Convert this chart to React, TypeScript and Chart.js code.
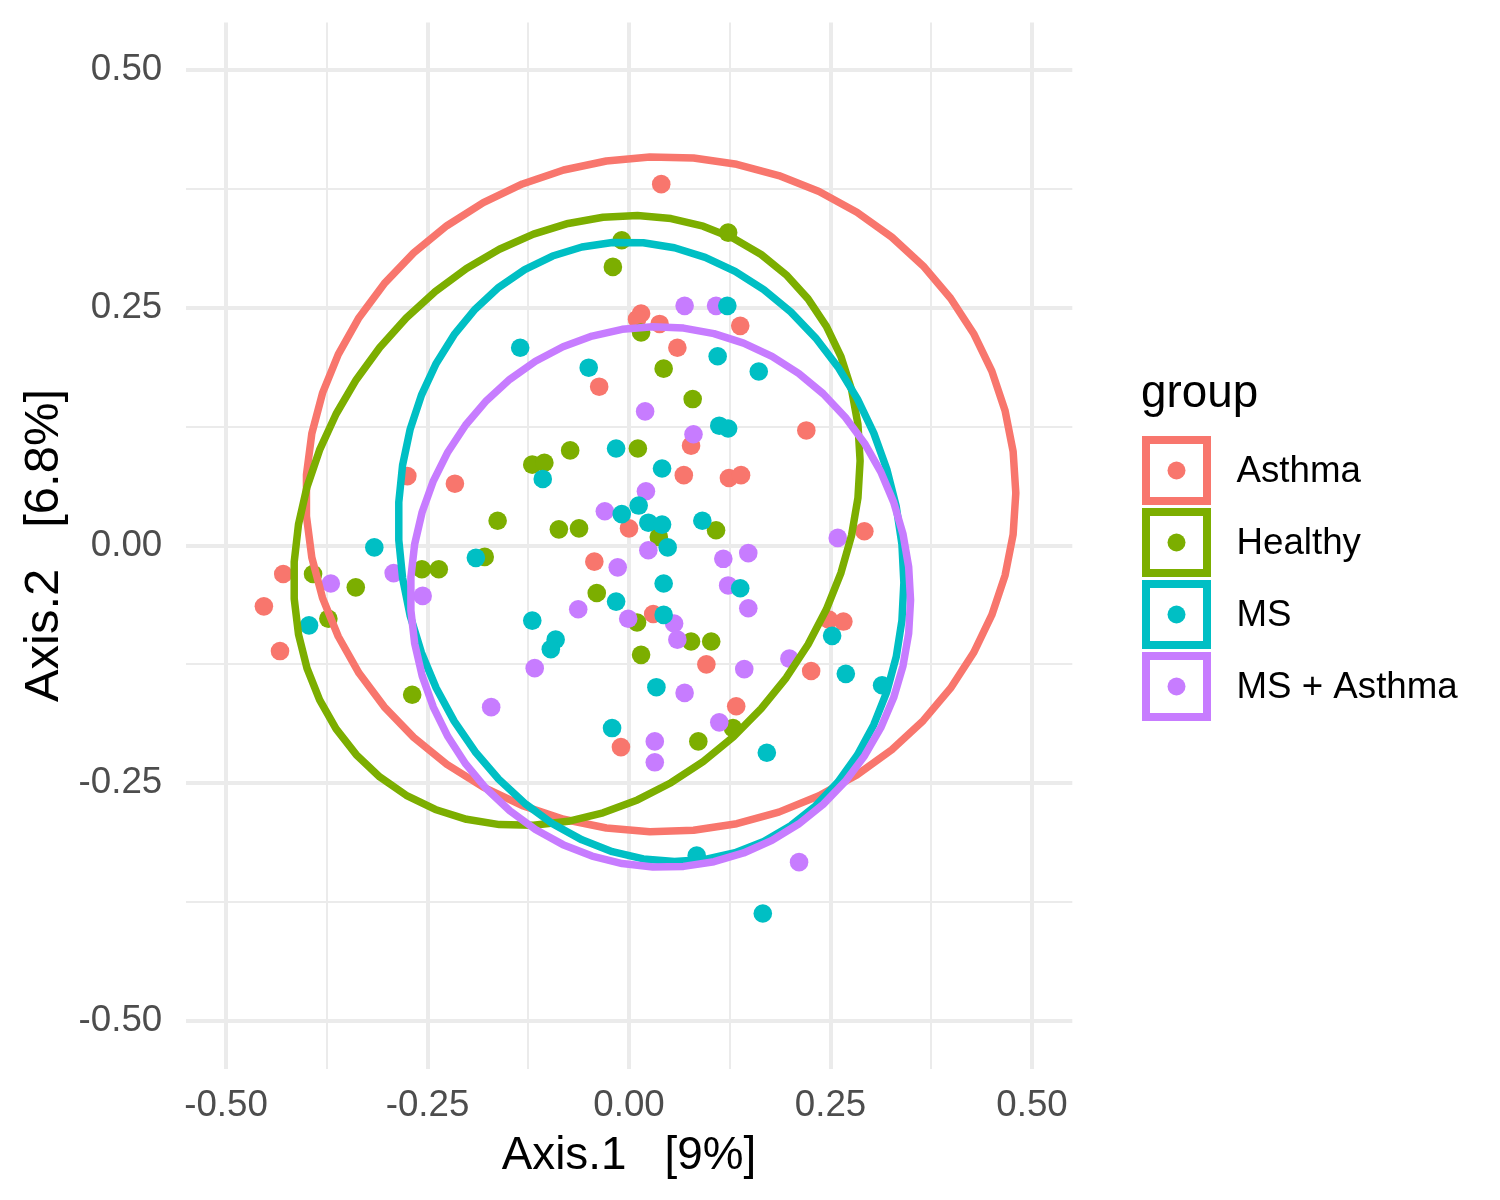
import React, { useEffect, useRef } from "react";
import { Chart, registerables } from "chart.js";

Chart.register(...registerables);

// ---- data ----
const groupNames = ["Asthma", "Healthy", "MS", "MS + Asthma"];
const groupColors = ["#F8766D", "#7CAE00", "#00BFC4", "#C77CFF"];

const asthmaX = [0.040, 0.015, 0.010, 0.038, 0.138, 0.060, -0.037, 0.220, 0.077, -0.275, -0.216, 0.068, 0.124, 0.139, 0.292, 0.000, -0.043, -0.429, -0.453, -0.433, 0.030, 0.248, 0.266, 0.096, 0.226, 0.133, -0.010];
const asthmaY = [0.380, 0.244, 0.238, 0.233, 0.231, 0.208, 0.167, 0.121, 0.105, 0.073, 0.065, 0.074, 0.071, 0.074, 0.015, 0.018, -0.017, -0.030, -0.064, -0.111, -0.072, -0.078, -0.080, -0.125, -0.132, -0.169, -0.212];

const healthyX = [0.123, -0.009, -0.020, 0.015, 0.043, 0.079, -0.120, -0.105, -0.073, 0.011, -0.163, -0.087, -0.062, 0.037, 0.108, -0.179, -0.040, 0.010, 0.077, 0.102, 0.015, 0.086, 0.129, -0.392, -0.339, -0.373, -0.257, -0.236, -0.269];
const healthyY = [0.329, 0.321, 0.293, 0.224, 0.186, 0.154, 0.085, 0.087, 0.100, 0.102, 0.026, 0.017, 0.018, 0.009, 0.016, -0.012, -0.050, -0.081, -0.101, -0.101, -0.115, -0.206, -0.192, -0.030, -0.044, -0.077, -0.025, -0.025, -0.157];

const msX = [0.122, -0.135, -0.050, 0.110, 0.161, 0.112, 0.123, -0.016, 0.041, -0.107, 0.012, -0.009, 0.024, 0.041, 0.048, 0.091, 0.043, 0.138, -0.016, 0.043, -0.120, -0.091, -0.097, 0.034, -0.021, 0.171, -0.316, -0.190, -0.397, 0.252, 0.269, 0.314, 0.084, 0.166];
const msY = [0.252, 0.208, 0.187, 0.199, 0.183, 0.126, 0.123, 0.102, 0.081, 0.070, 0.042, 0.033, 0.024, 0.022, -0.002, 0.026, -0.040, -0.045, -0.059, -0.073, -0.079, -0.099, -0.109, -0.149, -0.192, -0.218, -0.002, -0.013, -0.084, -0.095, -0.135, -0.147, -0.326, -0.387];

const msAsthmaX = [0.069, 0.108, 0.020, 0.080, 0.021, -0.030, 0.024, -0.014, 0.117, 0.148, 0.123, 0.148, -0.063, -0.001, 0.056, 0.060, -0.117, 0.143, 0.069, -0.171, 0.112, 0.032, 0.032, -0.370, -0.292, -0.256, 0.259, 0.199, 0.211];
const msAsthmaY = [0.252, 0.252, 0.141, 0.117, 0.057, 0.036, -0.005, -0.023, -0.014, -0.008, -0.042, -0.066, -0.067, -0.077, -0.082, -0.099, -0.129, -0.130, -0.155, -0.170, -0.186, -0.206, -0.228, -0.040, -0.029, -0.053, 0.008, -0.119, -0.333];

const groupX = [asthmaX, healthyX, msX, msAsthmaX];
const groupY = [asthmaY, healthyY, msY, msAsthmaY];

// axis ticks
const axisMin = -0.55;
const axisMax = 0.55;
const gridTicks = [-0.5, -0.375, -0.25, -0.125, 0, 0.125, 0.25, 0.375, 0.5];
const xTitle = "Axis.1   [9%]";
const yTitle = "Axis.2   [6.8%]";
const legendTitle = "group";

// ---- stat_ellipse (type "t", level 0.95) as in ggplot2, via MASS::cov.trob ----
function covTrob(xs: number[], ys: number[]) {
  const n = xs.length;
  const p = 2;
  const nu = 5;
  let lx = xs.reduce((a, b) => a + b, 0) / n;
  let ly = ys.reduce((a, b) => a + b, 0) / n;
  let w = new Array(n).fill(1);
  let dx: number[] = [];
  let dy: number[] = [];
  for (let iter = 0; iter < 25; iter++) {
    const w0 = w.slice();
    dx = xs.map((v) => v - lx);
    dy = ys.map((v) => v - ly);
    const sw = w.reduce((a, b) => a + b, 0);
    let a = 0, b = 0, c = 0;
    for (let i = 0; i < n; i++) {
      const f = w[i] / sw;
      a += f * dx[i] * dx[i];
      b += f * dx[i] * dy[i];
      c += f * dy[i] * dy[i];
    }
    const det = a * c - b * b;
    const Q = dx.map((_, i) => (dx[i] * dx[i] * c - 2 * dx[i] * dy[i] * b + dy[i] * dy[i] * a) / det);
    w = Q.map((q) => (nu + p) / (nu + q));
    const sw2 = w.reduce((s, v) => s + v, 0);
    lx = xs.reduce((s, v, i) => s + w[i] * v, 0) / sw2;
    ly = ys.reduce((s, v, i) => s + w[i] * v, 0) / sw2;
    if (w.every((v, i) => Math.abs(v - w0[i]) < 0.01)) break;
  }
  let a = 0, b = 0, c = 0;
  for (let i = 0; i < n; i++) {
    a += w[i] * dx[i] * dx[i];
    b += w[i] * dx[i] * dy[i];
    c += w[i] * dy[i] * dy[i];
  }
  return { cx: lx, cy: ly, a: a / n, b: b / n, c: c / n };
}

function ellipsePoints(xs: number[], ys: number[]) {
  const { cx, cy, a, b, c } = covTrob(xs, ys);
  const dfd = xs.length - 1;
  const qf = (dfd / 2) * (Math.pow(1 - 0.95, -2 / dfd) - 1);
  const radius = Math.sqrt(2 * qf);
  const r11 = Math.sqrt(a);
  const r12 = b / r11;
  const r22 = Math.sqrt(c - r12 * r12);
  const segments = 51;
  const pts: { x: number; y: number }[] = [];
  for (let k = 0; k <= segments; k++) {
    const t = (k * 2 * Math.PI) / segments;
    const u = Math.cos(t), v = Math.sin(t);
    pts.push({ x: cx + radius * u * r11, y: cy + radius * (u * r12 + v * r22) });
  }
  return pts;
}

const isMajor = (v: number) => Math.abs(v * 4 - Math.round(v * 4)) < 1e-9;

const FONT = "'Liberation Sans', Arial, Helvetica, sans-serif";

const legendPlugin = {
  id: "ggLegend",
  afterDraw(chart: any) {
    const ctx = chart.ctx as CanvasRenderingContext2D;
    ctx.save();
    ctx.fillStyle = "#000000";
    ctx.font = `45.8px ${FONT}`;
    ctx.textAlign = "left";
    ctx.textBaseline = "alphabetic";
    ctx.fillText(legendTitle, 1141, 407);
    const boxLeft = 1142;
    const boxSize = 69;
    const border = 8;
    groupNames.forEach((name, i) => {
      const cy = 470.5 + i * 72;
      ctx.strokeStyle = groupColors[i];
      ctx.lineWidth = border;
      ctx.strokeRect(boxLeft + border / 2, cy - boxSize / 2 + border / 2, boxSize - border, boxSize - border);
      ctx.fillStyle = groupColors[i];
      ctx.beginPath();
      ctx.arc(boxLeft + boxSize / 2, cy, 9, 0, Math.PI * 2);
      ctx.fill();
      ctx.fillStyle = "#000000";
      ctx.font = `36.7px ${FONT}`;
      ctx.fillText(name, 1236.5, cy + 11.5);
    });
    ctx.restore();
  },
};

export default function App() {
  const canvasRef = useRef<HTMLCanvasElement | null>(null);

  useEffect(() => {
    if (!canvasRef.current) return;
    document.body.style.margin = "0";

    const pointOrder = [7, 6, 4, 5];
    const ellipseOrder = [3, 2, 1, 0];

    const pointSets = groupNames.map((name, g) => ({
      label: name,
      data: groupX[g].map((x, i) => ({ x, y: groupY[g][i] })),
      backgroundColor: groupColors[g],
      borderWidth: 0,
      pointRadius: 9.3,
      pointHoverRadius: 9.3,
      showLine: false,
      order: pointOrder[g],
    }));

    const ellipseSets = groupNames.map((name, g) => ({
      label: name + " ellipse",
      data: ellipsePoints(groupX[g], groupY[g]),
      borderColor: groupColors[g],
      backgroundColor: groupColors[g],
      borderWidth: 7.5,
      borderJoinStyle: "round" as const,
      borderCapStyle: "round" as const,
      pointRadius: 0,
      pointHoverRadius: 0,
      showLine: true,
      fill: false,
      tension: 0,
      order: ellipseOrder[g],
    }));

    const tickFont = { family: FONT, size: 36.7 };
    const titleFont = { family: FONT, size: 45.8 };
    const yTitleFont = { family: FONT, size: 49 };

    const chart = new Chart(canvasRef.current, {
      type: "scatter",
      data: { datasets: [...pointSets, ...ellipseSets] as any },
      options: {
        animation: false,
        responsive: false,
        devicePixelRatio: 1,
        events: [],
        layout: { padding: { top: 22.5, right: 427.7, left: 0, bottom: 0 } },
        plugins: {
          legend: { display: false },
          tooltip: { enabled: false },
        },
        scales: {
          x: {
            type: "linear",
            min: axisMin,
            max: axisMax,
            afterBuildTicks: (scale: any) => {
              scale.ticks = gridTicks.map((v) => ({ value: v }));
            },
            afterFit: (scale: any) => {
              scale.height = 131.5;
              scale.paddingLeft = 0;
              scale.paddingRight = 0;
              scale.paddingTop = 0;
              scale.paddingBottom = 0;
            },
            ticks: {
              autoSkip: false,
              maxRotation: 0,
              minRotation: 0,
              padding: 15,
              color: "#4D4D4D",
              font: tickFont,
              callback: (value: any) => (isMajor(Number(value)) ? Number(value).toFixed(2) : ""),
            },
            grid: {
              color: "#EBEBEB",
              lineWidth: (ctx: any) => (ctx.tick && isMajor(ctx.tick.value) ? 4 : 2),
              drawTicks: false,
            },
            border: { display: false },
            title: {
              display: true,
              text: xTitle,
              color: "#000000",
              font: titleFont,
              padding: { top: 0, bottom: 16.5 },
            },
          },
          y: {
            type: "linear",
            min: axisMin,
            max: axisMax,
            afterBuildTicks: (scale: any) => {
              scale.ticks = gridTicks.map((v) => ({ value: v }));
            },
            afterFit: (scale: any) => {
              scale.width = 185.7;
              scale.paddingLeft = 0;
              scale.paddingRight = 0;
              scale.paddingTop = 0;
              scale.paddingBottom = 0;
            },
            ticks: {
              autoSkip: false,
              padding: 23.5,
              color: "#4D4D4D",
              font: tickFont,
              callback: (value: any) => (isMajor(Number(value)) ? Number(value).toFixed(2) : ""),
            },
            grid: {
              color: "#EBEBEB",
              lineWidth: (ctx: any) => (ctx.tick && isMajor(ctx.tick.value) ? 4 : 2),
              drawTicks: false,
            },
            border: { display: false },
            title: {
              display: true,
              text: yTitle,
              color: "#000000",
              font: yTitleFont,
              padding: { top: 15.5, bottom: 0 },
            },
          },
        },
      } as any,
      plugins: [legendPlugin],
    });

    return () => chart.destroy();
  }, []);

  return (
    <div style={{ position: "absolute", left: 0, top: 0, width: 1500, height: 1200, background: "#ffffff" }}>
      <canvas ref={canvasRef} width={1500} height={1200} style={{ display: "block", width: 1500, height: 1200 }} />
    </div>
  );
}
